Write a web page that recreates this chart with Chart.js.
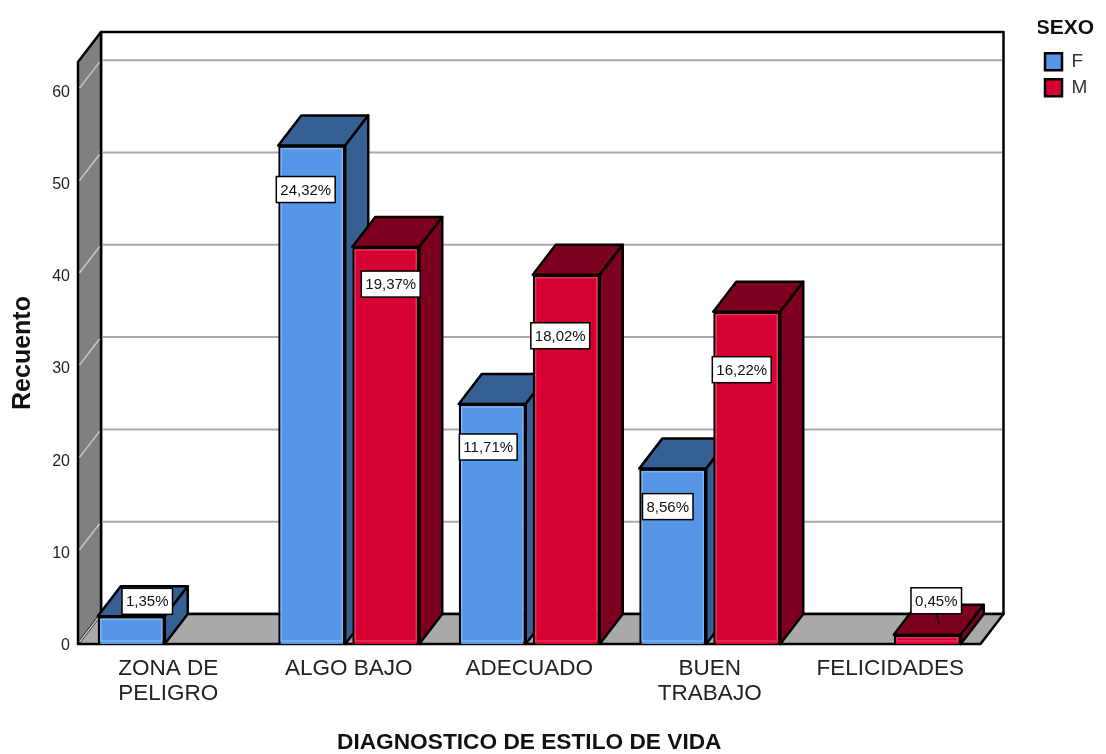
<!DOCTYPE html>
<html>
<head>
<meta charset="utf-8">
<title>Diagnostico de estilo de vida</title>
<script src="https://cdn.jsdelivr.net/npm/chart.js@4"></script>
<style>
    html, body { margin: 0; padding: 0; background: #fff; }
    canvas { display: block; }
</style>
</head>
<body>
<canvas id="sexoChart" width="1106" height="754"></canvas>
<script>
const categories = [["ZONA DE", "PELIGRO"], "ALGO BAJO", "ADECUADO", ["BUEN", "TRABAJO"], "FELICIDADES"];
const seriesNames = ["F", "M"];
const valuesF = [3, 54, 26, 19, null];
const valuesM = [null, 43, 40, 36, 1];
const percentF = ["1,35%", "24,32%", "11,71%", "8,56%", null];
const percentM = [null, "19,37%", "18,02%", "16,22%", "0,45%"];

const FONT = "'Liberation Sans', Arial, sans-serif";
const DEPTH_X = 23; // how far the back wall sits from the front plane
const DEPTH_Y = -30;

const COLORS = {
    F: "#5596e6", Fdark: "#365f93", Flight: "#7db3f2",
    M: "#d60032", Mdark: "#7e0020", Mlight: "#e8305a",
    wall: "#808080", floor: "#a9a9a9", grid: "#a8a8a8", wallGrid: "#c8c8c8",
};

// label box offsets from bar centre / bar top, same order as the values
const offsetsF = [[16, -15], [-6, 44], [-4, 43], [-5, 38], null];
const offsetsM = [null, [5, 37], [-6, 61], [-5, 58], [9, -34]];

function poly(ctx, pts, fill, stroke, width) {
    ctx.beginPath();
    pts.forEach((p, i) => (i ? ctx.lineTo(p[0], p[1]) : ctx.moveTo(p[0], p[1])));
    ctx.closePath();
    if (fill) {
        ctx.fillStyle = fill;
        ctx.fill();
    }
    if (stroke) {
        ctx.strokeStyle = stroke;
        ctx.lineWidth = width;
        ctx.stroke();
    }
}

// Walls, floor, grid and the sides of the bars
const depthPlugin = {
    id: "depth",
    beforeLayout(chart) {
        const legend = chart.legend;
        if (legend && !legend.fitWrapped) {
            const fit = legend.fit;
            legend.fit = function () {
                fit.call(this);
                this.width = 125.5;
            };
            legend.fitWrapped = true;
        }
    },
    afterLayout(chart) {
        // the legend sits away from the plot, so move it after the layout
        const legend = chart.legend;
        legend.left = 1038;
        legend.right = 1104;
        legend.width = 54;
        legend.top = 18;
        legend.bottom = 120;
        legend.adjustHitBoxes();
    },
    beforeDatasetsDraw(chart) {
        const ctx = chart.ctx;
        const area = chart.chartArea;
        const y = chart.scales.y;
        const l = area.left, r = area.right, t = area.top, b = area.bottom;
        ctx.save();
        ctx.lineJoin = "round";

        // back wall, left wall, floor
        poly(ctx, [[l + DEPTH_X, t + DEPTH_Y], [r + DEPTH_X, t + DEPTH_Y], [r + DEPTH_X, b + DEPTH_Y], [l + DEPTH_X, b + DEPTH_Y]], "#fff", "#000", 2.5);
        poly(ctx, [[l, t], [l + DEPTH_X, t + DEPTH_Y], [l + DEPTH_X, b + DEPTH_Y], [l, b]], COLORS.wall, "#000", 2.5);
        poly(ctx, [[l, b], [l + DEPTH_X, b + DEPTH_Y], [r + DEPTH_X, b + DEPTH_Y], [r, b]], COLORS.floor, "#000", 2.5);

        // grid lines follow the y ticks, pushed back to the wall
        y.ticks.forEach((tick) => {
            const py = y.getPixelForValue(tick.value);
            if (tick.value !== 0) {
                ctx.strokeStyle = COLORS.grid;
                ctx.lineWidth = 2;
                ctx.beginPath();
                ctx.moveTo(l + DEPTH_X + 1.5, py + DEPTH_Y);
                ctx.lineTo(r + DEPTH_X - 1.5, py + DEPTH_Y);
                ctx.stroke();
            }
            ctx.strokeStyle = COLORS.wallGrid;
            ctx.lineWidth = 1.5;
            ctx.beginPath();
            ctx.moveTo(l + 1.5, py - 2);
            ctx.lineTo(l + DEPTH_X - 1.5, py + DEPTH_Y + 2);
            ctx.stroke();
        });

        // tops and sides, left to right so later bars cover earlier ones
        let boxes = [];
        chart.data.datasets.forEach((ds, i) => {
            chart.getDatasetMeta(i).data.forEach((bar, j) => {
                if (ds.data[j] !== null) boxes.push({bar, dark: i === 0 ? COLORS.Fdark : COLORS.Mdark});
            });
        });
        boxes.sort((p, q) => p.bar.x - q.bar.x);
        boxes.forEach(({bar, dark}) => {
            const x0 = bar.x - bar.width / 2, x1 = bar.x + bar.width / 2;
            poly(ctx, [[x0, bar.y], [x0 + DEPTH_X, bar.y + DEPTH_Y], [x1 + DEPTH_X, bar.y + DEPTH_Y], [x1, bar.y]], dark, "#000", 2.5);
            poly(ctx, [[x1, bar.y], [x1 + DEPTH_X, bar.y + DEPTH_Y], [x1 + DEPTH_X, b + DEPTH_Y], [x1, b]], dark, "#000", 2.5);
        });
        ctx.restore();
    },
    afterDatasetsDraw(chart) {
        const ctx = chart.ctx;
        ctx.save();

        // lighter inner edge on the bar fronts
        chart.data.datasets.forEach((ds, i) => {
            chart.getDatasetMeta(i).data.forEach((bar, j) => {
                if (ds.data[j] === null) return;
                const h = bar.base - bar.y;
                ctx.strokeStyle = i === 0 ? COLORS.Flight : COLORS.Mlight;
                ctx.lineWidth = 1.5;
                ctx.strokeRect(bar.x - bar.width / 2 + 3, bar.y + 3, bar.width - 6, h - 6);
            });
        });

        ctx.font = "15px " + FONT;
        ctx.textAlign = "center";
        ctx.textBaseline = "middle";
        [[percentF, offsetsF], [percentM, offsetsM]].forEach(([texts, offsets], i) => {
            chart.getDatasetMeta(i).data.forEach((bar, j) => {
                if (!texts[j]) return;
                const cx = bar.x + offsets[j][0];
                const cy = bar.y + offsets[j][1];
                // small bars get a leader line down to the bar
                if (offsets[j][1] < 0 && i === 1) {
                    ctx.strokeStyle = "#000";
                    ctx.lineWidth = 1;
                    ctx.beginPath();
                    ctx.moveTo(cx, cy + 13);
                    ctx.lineTo(cx + 3, cy + 23);
                    ctx.stroke();
                }
                const w = ctx.measureText(texts[j]).width + 8;
                const h = 26;
                ctx.fillStyle = "#fff";
                ctx.strokeStyle = "#000";
                ctx.lineWidth = 1.5;
                ctx.fillRect(cx - w / 2, cy - h / 2, w, h);
                ctx.strokeRect(cx - w / 2, cy - h / 2, w, h);
                ctx.fillStyle = "#111";
                ctx.fillText(texts[j], cx, cy + 1);
            });
        });
        ctx.restore();
    },
};

new Chart(document.getElementById("sexoChart"), {
    type: "bar",
    data: {
        labels: categories,
        datasets: [
            {label: seriesNames[0], data: valuesF, backgroundColor: COLORS.F, borderColor: "#000", borderWidth: 2.5},
            {label: seriesNames[1], data: valuesM, backgroundColor: COLORS.M, borderColor: "#000", borderWidth: 2.5},
        ],
    },
    plugins: [depthPlugin],
    options: {
        responsive: false,
        devicePixelRatio: 1,
        animation: false,
        layout: {padding: {top: 62, left: 0, right: 0, bottom: 0}},
        datasets: {bar: {categoryPercentage: 0.82, barPercentage: 0.905}},
        plugins: {
            tooltip: {enabled: false},
            legend: {
                position: "right",
                align: "start",
                title: {display: true, text: "SEXO", color: "#111", font: {family: FONT, size: 21, weight: "bold"}, padding: {top: 0, bottom: 2}},
                labels: {
                    boxWidth: 17,
                    boxHeight: 17,
                    padding: 7,
                    color: "#333",
                    font: {family: FONT, size: 19},
                },
            },
        },
        scales: {
            x: {
                grid: {display: false},
                border: {display: false},
                ticks: {
                    autoSkip: false,
                    maxRotation: 0,
                    minRotation: 0,
                    padding: 4,
                    color: "#222",
                    font: {family: FONT, size: 22.5, lineHeight: 1.12},
                },
                title: {display: true, text: "DIAGNOSTICO DE ESTILO DE VIDA", color: "#111", padding: 0, font: {family: FONT, size: 22.7, weight: "bold", lineHeight: 1}},
                afterFit(scale) { scale.height = 110; },
            },
            y: {
                min: 0,
                max: 63.05,
                grid: {display: false, drawTicks: false},
                border: {display: false},
                ticks: {
                    stepSize: 10,
                    includeBounds: false,
                    padding: 8,
                    labelOffset: 2,
                    color: "#222",
                    font: {family: FONT, size: 16},
                },
                title: {display: true, text: "Recuento", color: "#111", padding: {top: 8, bottom: 0}, font: {family: FONT, size: 25, weight: "bold"}},
                afterFit(scale) { scale.width = 78; },
            },
        },
    },
});
</script>
</body>
</html>
